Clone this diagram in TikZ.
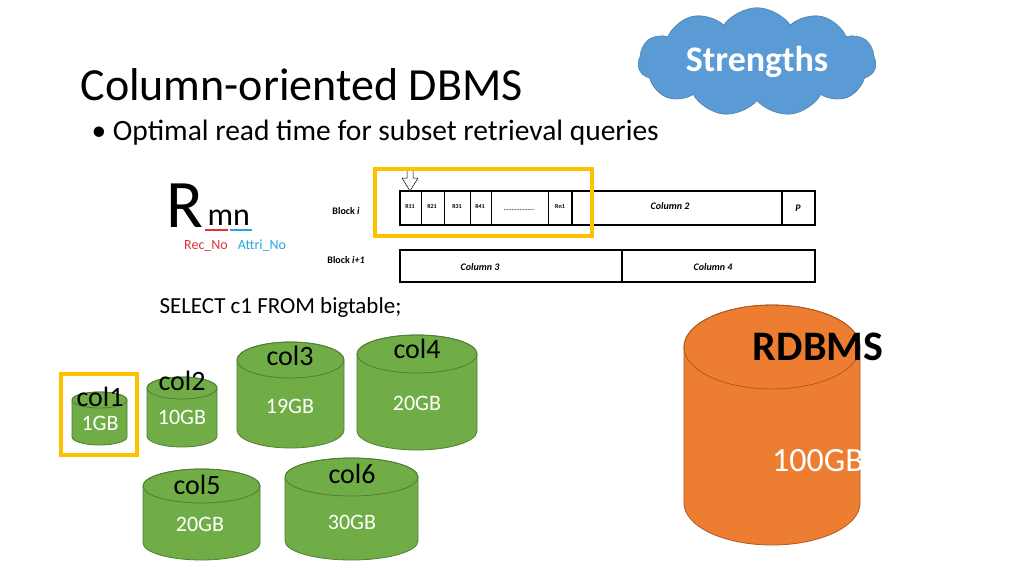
\documentclass[tikz,border=0pt]{standalone}
\usepackage{fontspec}
\setmainfont{Carlito}
\usetikzlibrary{shapes.symbols}
\definecolor{drumgreen}{HTML}{70AD47}
\definecolor{drumedge}{HTML}{507E32}
\definecolor{drumorange}{HTML}{ED7D31}
\definecolor{orangeedge}{HTML}{AE5A21}
\definecolor{cloudblue}{HTML}{5B9BD5}
\definecolor{markyellow}{HTML}{FFC000}
\definecolor{recred}{HTML}{E0323C}
\definecolor{attblue}{HTML}{2EA3E0}
% drum: left x, right x, top y, bottom y, half height of the ellipse, fill, edge
\newcommand{\drum}[7]{%
  \draw[fill=#6, draw=#7, line width=0.8]
    (#1,#3+#5) -- (#1,#4-#5) arc[x radius={(#2-#1)/2}, y radius=#5, start angle=180, end angle=0]
    -- (#2,#3+#5) arc[x radius={(#2-#1)/2}, y radius=#5, start angle=0, end angle=-180] -- cycle;
  \draw[draw=#7, line width=0.8] ({(#1+#2)/2},#3+#5) ellipse[x radius={(#2-#1)/2}, y radius=#5];
}
\tikzset{
  lbl/.style={font=\fontsize{28}{30}\selectfont},
  size/.style={font=\fontsize{22}{24}\selectfont, text=white},
  cell/.style={font=\fontsize{6}{7}\selectfont\bfseries},
  colname/.style={font=\fontsize{10}{12}\selectfont\bfseries\itshape},
  pick/.style={draw=markyellow, line width=4},
}
\begin{document}
\begin{tikzpicture}[x=1pt,y=-1pt]
\useasboundingbox (0,0) rectangle (1024,576);

% heading
\node[anchor=base west, font=\fontsize{46}{50}\selectfont] (title) at (77,100) {Column-oriented DBMS};
\node[anchor=base west, font=\fontsize{29.5}{31}\selectfont] (point) at (88,140) {\textbullet\ Optimal read time for subset retrieval queries};
\node[cloud, cloud puffs=11, cloud puff arc=110, aspect=2.6, fill=cloudblue, draw=cloudblue!70!black,
  minimum width=238, minimum height=100, text=white, font=\fontsize{36}{38}\selectfont\bfseries] (cloud) at (757,62) {Strengths};

% R_mn
\node[anchor=base west, font=\fontsize{68}{68}\selectfont] (R) at (163,227) {R};
\node[anchor=base west, font=\fontsize{32}{32}\selectfont] (mn) at (204,225) {mn};
\draw[recred, line width=2] (205,230) -- (228,230);
\draw[attblue, line width=2] (230,230) -- (252,230);
\node[text=recred, font=\fontsize{14}{16}\selectfont] (rec) at (206,246) {Rec\_No};
\node[text=attblue, font=\fontsize{14}{16}\selectfont] (att) at (262,246) {Attri\_No};

% blocks
\node[font=\fontsize{10}{11}\selectfont\bfseries] (blki) at (346,211) {Block \textit{i}};
\node[font=\fontsize{10}{11}\selectfont\bfseries] (blkj) at (346,260) {Block \textit{i+1}};
\draw[line width=1.2] (400,191) rectangle (815,225);
\draw[line width=1.2] (400,250) rectangle (815,282);
\foreach \x in {421,444,470,491,548} \draw[line width=0.5] (\x,191) -- (\x,225);
\draw[line width=1.2] (572,191) -- (572,225);
\draw[line width=1.2] (782,191) -- (782,225);
\draw[line width=1.2] (622,250) -- (622,282);
\foreach \x/\t in {410/R11, 432/R21, 457/R31, 480/R41, 560/Rn1}
  \node[cell] at (\x,207) {\t};
\node[cell] (dots) at (519,210) {...................};
\node[colname] (c2) at (670,206) {Column 2};
\node[colname] (p) at (798,208) {P};
\node[colname] (c3) at (480,267) {Column 3};
\node[colname] (c4) at (713,267) {Column 4};
\draw[fill=white, line width=0.5] (407,168) -- (413,168) -- (413,178) -- (418,178) -- (410,191) -- (402,178) -- (407,178) -- cycle;
\draw[pick] (375,169) rectangle (592,236);

\node[anchor=base west, font=\fontsize{23}{25}\selectfont] (query) at (156,313) {SELECT c1 FROM bigtable;};

% column drums
\drum{72}{127}{392}{445}{8}{drumgreen}{drumedge}
\drum{147}{217}{377}{447}{11}{drumgreen}{drumedge}
\drum{237}{344}{342}{448}{18}{drumgreen}{drumedge}
\drum{357}{477}{335}{450}{19}{drumgreen}{drumedge}
\drum{143}{260}{469}{560}{17}{drumgreen}{drumedge}
\drum{285}{418}{458}{560}{19}{drumgreen}{drumedge}
\drum{684}{860}{305}{545}{42}{drumorange}{orangeedge}
\draw[pick] (61,374) rectangle (137,455);

\node[lbl] (n1) at (100,397) {col1};
\node[size] (s1) at (100,423) {1GB};
\node[lbl] (n2) at (182,381) {col2};
\node[size] (s2) at (182,417) {10GB};
\node[lbl] (n3) at (290,356) {col3};
\node[size] (s3) at (290,406) {19GB};
\node[lbl] (n4) at (417,349) {col4};
\node[size] (s4) at (417,403) {20GB};
\node[lbl] (n5) at (197,485) {col5};
\node[size] (s5) at (200,524) {20GB};
\node[lbl] (n6) at (352,474) {col6};
\node[size] (s6) at (352,522) {30GB};
\node[font=\fontsize{42}{44}\selectfont\bfseries] (rd) at (818,347) {RDBMS};
\node[text=white, font=\fontsize{34}{36}\selectfont] (rs) at (818,461) {100GB};
\end{tikzpicture}
\end{document}
